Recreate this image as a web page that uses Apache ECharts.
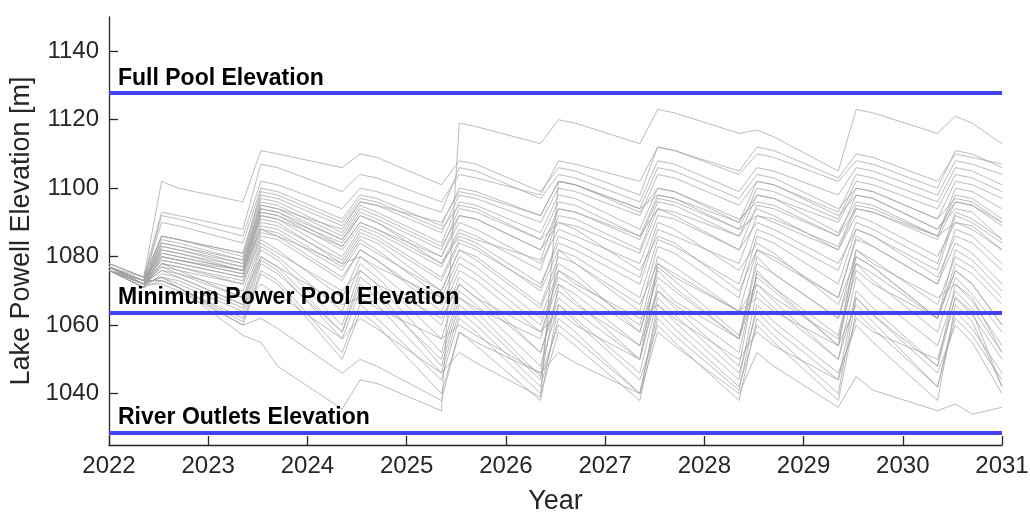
<!DOCTYPE html>
<html>
<head>
<meta charset="utf-8">
<script src="https://cdn.jsdelivr.net/npm/echarts@6/dist/echarts.min.js"></script>
<style>html,body{margin:0;padding:0;background:#fff}#c{width:1030px;height:515px}</style>
</head>
<body>
<div id="c"></div>
<script>
// x tick labels (years) and y tick labels
const yearTicks = [2022, 2023, 2024, 2025, 2026, 2027, 2028, 2029, 2030, 2031];
const yTicks = [1040, 1060, 1080, 1100, 1120, 1140];

// reference elevations [m]
const fullPool = 1127.8;
const minPower = 1063.7;
const riverOutlets = 1028.7;
const refNames = ['Full Pool Elevation', 'Minimum Power Pool Elevation', 'River Outlets Elevation'];

// sample times (decimal year): start, then each year's spring low, summer peak, late summer, end
const T = [2022.0,
  2022.35, 2022.53, 2022.7,
  2023.35, 2023.53, 2023.7,
  2024.35, 2024.53, 2024.7,
  2025.35, 2025.53, 2025.7,
  2026.35, 2026.53, 2026.7,
  2027.35, 2027.53, 2027.7,
  2028.35, 2028.53, 2028.7,
  2029.35, 2029.53, 2029.7,
  2030.35, 2030.53, 2030.7,
  2031.0];

// ensemble traces of Lake Powell elevation [m]
const u1 = [1077, 1074,1102,1100, 1096,1111,1110, 1106,1110,1109, 1101,1108,1107, 1099,1106,1105, 1098,1112,1111, 1104,1110,1109, 1102,1108,1107, 1100,1111,1110, 1106];
const u2 = [1077, 1072,1074,1071, 1057,1055,1048, 1035.5,1044,1043, 1035,1119,1118, 1113,1120,1119, 1113,1123,1122, 1116,1117,1115, 1105,1123,1122, 1116,1121,1119, 1113];
const u3 = [1078, 1074,1093,1092, 1088,1107,1106, 1099,1104,1103, 1096,1104,1103, 1098,1108,1107, 1102,1112,1111, 1105,1112,1111, 1103,1110,1109, 1102,1110,1109, 1107];
const u4 = [1077, 1073,1092,1091, 1086,1102,1101, 1094,1100,1099, 1093,1106,1105, 1097,1104,1103, 1096,1108,1107, 1099,1106,1105, 1098,1106,1105, 1098,1108,1107, 1104];
const u5 = [1076, 1073,1090,1089, 1084,1100,1099, 1091,1098,1097, 1089,1100,1099, 1092,1102,1101, 1094,1106,1105, 1097,1104,1103, 1094,1100,1099, 1091,1102,1101, 1097];
const u6 = [1077, 1072,1086,1085, 1081,1098,1097, 1089,1096,1095, 1087,1098,1097, 1090,1100,1099, 1092,1104,1103, 1095,1102,1101, 1093,1104,1103, 1096,1106,1105, 1101];
const m1 = [1076, 1073,1086,1085, 1080,1097,1096, 1087,1095,1093, 1084,1096,1095, 1087,1098,1097, 1088,1100,1099, 1090,1098,1097, 1087,1096,1095, 1086,1100,1099, 1094];
const m2 = [1077, 1072,1085,1084, 1079,1096,1095, 1086,1094,1092, 1083,1092,1091, 1082,1094,1093, 1085,1097,1096, 1088,1100,1099, 1091,1102,1101, 1094,1104,1103, 1099];
const m3 = [1076, 1072,1084,1083, 1079,1095,1094, 1085,1092,1090, 1080,1090,1088, 1078,1088,1086, 1078,1092,1091, 1082,1095,1094, 1086,1098,1097, 1088,1096,1095, 1090];
const m4 = [1077, 1073,1084,1083, 1078,1094,1093, 1085,1093,1091, 1082,1094,1093, 1085,1096,1095, 1086,1094,1092, 1082,1090,1088, 1078,1088,1086, 1076,1092,1090, 1084];
const m5 = [1076, 1071,1083,1082, 1077,1094,1093, 1083,1090,1088, 1078,1088,1086, 1076,1092,1091, 1082,1096,1095, 1086,1094,1092, 1082,1092,1090, 1080,1090,1088, 1082];
const m6 = [1077, 1072,1082,1081, 1077,1093,1092, 1084,1092,1090, 1078,1086,1084, 1072,1084,1082, 1072,1088,1086, 1078,1092,1091, 1083,1095,1094, 1086,1098,1097, 1091];
const m7 = [1076, 1072,1082,1081, 1076,1092,1091, 1080,1088,1086, 1074,1085,1083, 1070,1082,1080, 1068,1085,1083, 1072,1088,1086, 1076,1090,1088, 1078,1093,1091, 1085];
const m8 = [1077, 1073,1081,1080, 1076,1092,1091, 1083,1090,1088, 1080,1092,1091, 1082,1090,1088, 1076,1086,1084, 1070,1082,1080, 1068,1085,1083, 1072,1088,1086, 1078];
const m9 = [1076, 1071,1080,1079, 1075,1091,1090, 1078,1086,1084, 1070,1082,1080, 1066,1080,1078, 1064,1083,1081, 1068,1086,1084, 1072,1088,1086, 1074,1086,1084, 1076];
const m10 = [1077, 1072,1080,1079, 1075,1090,1089, 1079,1087,1085, 1073,1084,1082, 1071,1086,1084, 1074,1090,1088, 1076,1084,1081, 1066,1080,1077, 1062,1078,1075, 1066];
const m11 = [1076, 1072,1079,1078, 1074,1089,1088, 1077,1085,1082, 1068,1080,1077, 1062,1076,1073, 1060,1080,1077, 1064,1082,1079, 1068,1086,1083, 1072,1084,1081, 1072];
const m12 = [1077, 1073,1079,1078, 1074,1088,1087, 1076,1084,1081, 1070,1082,1079, 1065,1078,1075, 1058,1074,1070, 1056,1078,1075, 1062,1082,1079, 1066,1080,1077, 1068];
const m13 = [1076, 1071,1078,1077, 1073,1087,1086, 1074,1082,1079, 1066,1078,1075, 1060,1074,1071, 1058,1077,1073, 1057,1074,1070, 1054,1078,1075, 1062,1082,1079, 1070];
const m14 = [1077, 1072,1078,1077, 1072,1086,1085, 1073,1082,1079, 1064,1076,1073, 1058,1072,1069, 1054,1070,1066, 1052,1075,1071, 1057,1080,1077, 1062,1076,1072, 1060];
const m15 = [1078, 1074,1086,1085, 1081,1099,1098, 1090,1097,1096, 1088,1095,1094, 1085,1090,1089, 1081,1094,1093, 1086,1098,1097, 1090,1100,1099, 1091,1097,1096, 1090];
const m16 = [1077, 1072,1083,1082, 1078,1095,1094, 1088,1096,1095, 1090,1099,1098, 1092,1102,1101, 1093,1100,1099, 1091,1096,1095, 1086,1094,1093, 1085,1096,1095, 1089];
const m17 = [1076, 1071,1081,1080, 1076,1093,1092, 1082,1089,1087, 1077,1087,1085, 1079,1094,1093, 1086,1098,1097, 1090,1102,1101, 1092,1098,1097, 1088,1094,1093, 1085];
const l1 = [1076, 1072,1077,1076, 1072,1085,1082, 1068,1080,1076, 1060,1074,1070, 1052,1068,1064, 1050,1072,1067, 1056,1080,1075, 1062,1078,1073, 1058,1074,1069, 1058];
const l2 = [1077, 1072,1076,1075, 1068,1083,1080, 1064,1078,1074, 1056,1072,1068, 1052,1070,1066, 1054,1076,1071, 1056,1072,1067, 1050,1068,1063, 1048,1072,1067, 1054];
const l3 = [1076, 1071,1075,1074, 1066,1082,1079, 1060,1076,1072, 1052,1070,1066, 1048,1066,1062, 1046,1068,1063, 1046,1064,1059, 1044,1070,1065, 1048,1068,1063, 1050];
const l4 = [1077, 1072,1074,1073, 1065,1080,1077, 1058,1074,1070, 1048,1066,1062, 1044,1072,1067, 1050,1070,1065, 1048,1076,1071, 1054,1066,1061, 1042,1064,1059, 1046];
const l5 = [1076, 1072,1074,1072, 1064,1079,1076, 1056,1070,1066, 1046,1064,1060, 1042,1062,1058, 1040,1066,1061, 1044,1070,1065, 1050,1074,1069, 1054,1070,1065, 1052];
const l6 = [1077, 1073,1073,1071, 1062,1078,1075, 1058,1072,1068, 1050,1068,1064, 1045,1060,1056, 1040,1064,1059, 1042,1060,1055, 1038,1064,1059, 1042,1062,1057, 1044];
const l7 = [1076, 1071,1073,1071, 1061,1076,1073, 1052,1066,1062, 1044,1062,1058, 1040,1058,1054, 1038,1062,1057, 1041,1066,1061, 1046,1060,1055, 1038,1066,1061, 1042];
const l8 = [1077, 1072,1072,1070, 1060,1075,1072, 1050,1064,1060, 1040,1058,1054, 1038,1066,1061, 1044,1060,1055, 1038,1062,1057, 1040,1068,1063, 1046,1060,1055, 1040];
const l9 = [1077, 1073,1073,1071, 1060,1062,1059, 1046,1050,1048, 1038,1058,1055, 1046,1082,1078, 1066,1078,1075, 1064,1072,1068, 1056,1076,1072, 1062,1076,1072, 1060];
const l10 = [1076, 1072,1076,1074, 1066,1072,1069, 1056,1062,1059, 1046,1052,1049, 1039,1102,1101, 1094,1098,1097, 1088,1092,1090, 1082,1094,1093, 1086,1090,1089, 1082];
const l11 = [1077, 1072,1078,1076, 1068,1080,1077, 1066,1068,1065, 1056,1060,1057, 1046,1052,1049, 1040,1058,1054, 1040,1052,1048, 1036,1045,1041, 1035,1037,1034, 1036];
const l12 = [1077, 1072,1077,1075, 1070,1084,1081, 1070,1076,1072, 1062,1072,1068, 1058,1064,1060, 1050,1078,1074, 1064,1068,1064, 1054,1082,1078, 1068,1072,1068, 1052];
const l13 = [1078, 1074,1080,1079, 1076,1088,1086, 1078,1080,1077, 1068,1068,1065, 1056,1076,1072, 1062,1066,1062, 1050,1058,1054, 1044,1062,1058, 1050,1068,1064, 1042];

const traces = [u1,u2,u3,u4,u5,u6,m1,m2,m3,m4,m5,m6,m7,m8,m9,m10,m11,m12,m13,m14,m15,m16,m17,
                l1,l2,l3,l4,l5,l6,l7,l8,l9,l10,l11,l12,l13];

const FONT = '"Liberation Sans", Arial, Helvetica, sans-serif';
const INK = '#262626';
const BLUE = '#4343f6';

const series = traces.map((tr, k) => ({
  type: 'line',
  name: 'run' + (k + 1),
  data: tr.map((v, i) => [T[i], v]),
  showSymbol: false,
  symbol: 'none',
  silent: true,
  z: 2,
  lineStyle: { color: 'rgba(160,160,160,0.7)', width: 1 }
}));

const refLevels = [fullPool, minPower, riverOutlets];
series.push({
  type: 'line',
  name: 'refs',
  data: [],
  z: 5,
  silent: true,
  markLine: {
    silent: true,
    symbol: ['none', 'none'],
    animation: false,
    lineStyle: { color: BLUE, width: 4, type: 'solid', opacity: 1 },
    label: {
      show: true,
      position: 'insideStartTop',
      distance: [9, 3],
      color: '#000',
      fontFamily: FONT,
      fontWeight: 'bold',
      fontSize: 23
    },
    data: refLevels.map((v, i) => ({ yAxis: v, label: { formatter: refNames[i] } }))
  }
});

const chart = echarts.init(document.getElementById('c'), null, { renderer: 'canvas' });
chart.setOption({
  animation: false,
  backgroundColor: '#fff',
  grid: { left: 109, right: 28, top: 17, bottom: 70, containLabel: false, outerBoundsMode: 'none' },
  xAxis: {
    type: 'value',
    min: yearTicks[0],
    max: yearTicks[yearTicks.length - 1],
    interval: 1,
    name: 'Year',
    nameLocation: 'middle',
    nameGap: 43,
    nameTextStyle: { fontFamily: FONT, fontSize: 27, color: INK },
    axisLine: { show: true, onZero: false, lineStyle: { color: INK, width: 1.3 } },
    axisTick: { show: true, inside: true, length: 9, lineStyle: { color: INK, width: 1.3 } },
    axisLabel: { fontFamily: FONT, fontSize: 24, color: INK, margin: 9, formatter: v => String(v) },
    splitLine: { show: false }
  },
  yAxis: {
    type: 'value',
    min: 1025,
    max: 1150,
    name: 'Lake Powell Elevation [m]',
    nameLocation: 'middle',
    nameGap: 62,
    nameTextStyle: { fontFamily: FONT, fontSize: 27, color: INK },
    axisLine: { show: true, onZero: false, lineStyle: { color: INK, width: 1.3 } },
    axisTick: { show: true, inside: true, length: 9, customValues: yTicks, lineStyle: { color: INK, width: 1.3 } },
    axisLabel: { fontFamily: FONT, fontSize: 24, color: INK, margin: 10, customValues: yTicks, formatter: v => String(v) },
    splitLine: { show: false }
  },
  series: series
});
</script>
</body>
</html>
